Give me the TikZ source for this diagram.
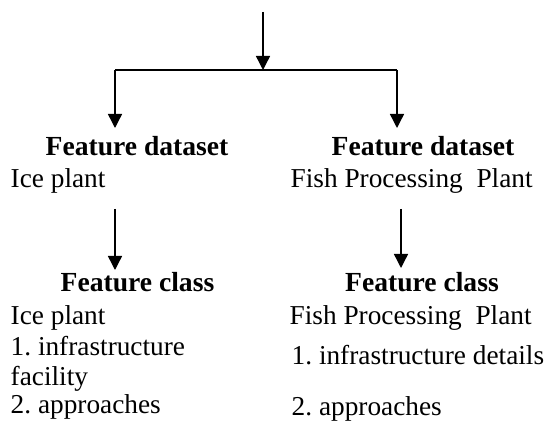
\documentclass[tikz,border=0pt]{standalone}
\usepackage{fontspec}
\setmainfont{Liberation Serif}
\usetikzlibrary{arrows.meta}
\frenchspacing

\begin{document}
\begin{tikzpicture}[x=1pt,y=-1pt,->,>={Triangle[width=14pt,length=14pt]},line width=1.4pt,
	head node/.style={font=\fontsize{27.6}{30}\selectfont\bfseries,inner sep=0,anchor=base},
	main node/.style={font=\fontsize{27.3}{30}\selectfont,inner sep=0,anchor=base west}]
\useasboundingbox (0,0) rectangle (548,427);
\node[head node] (1) at (137,156) {Feature dataset};
\node[main node] (2) at (10,188) {Ice plant};
\node[head node] (3) at (423,156) {Feature dataset};
\node[main node] (4) at (290,188) {Fish Processing~ Plant};
\node[head node] (5) at (137.5,291) {Feature class};
\node[main node] (6) at (10,324) {Ice plant};
\node[main node] (7) at (10,355) {1. infrastructure};
\node[main node] (8) at (10,385) {facility};
\node[main node] (9) at (10,413) {2. approaches};
\node[head node] (10) at (422,291) {Feature class};
\node[main node] (11) at (289,324) {Fish Processing~ Plant};
\node[main node] (12) at (291,364) {1. infrastructure details};
\node[main node] (13) at (291,415) {2. approaches};
\coordinate (in) at (263,12);
\coordinate (split) at (263,70);
\coordinate (bl) at (115,70);
\coordinate (br) at (397,70);
\coordinate (tl) at (115,128);
\coordinate (tr) at (397,128);
\coordinate (ml) at (115,209);
\coordinate (mr) at (401,209);
\coordinate (cl) at (115,270);
\coordinate (cr) at (401,268);
\draw[-] (bl) -- (br);
\path
	(in)	edge (split)
	(bl)	edge (tl)
	(br)	edge (tr)
	(ml)	edge (cl)
	(mr)	edge (cr);
\end{tikzpicture}
\end{document}
